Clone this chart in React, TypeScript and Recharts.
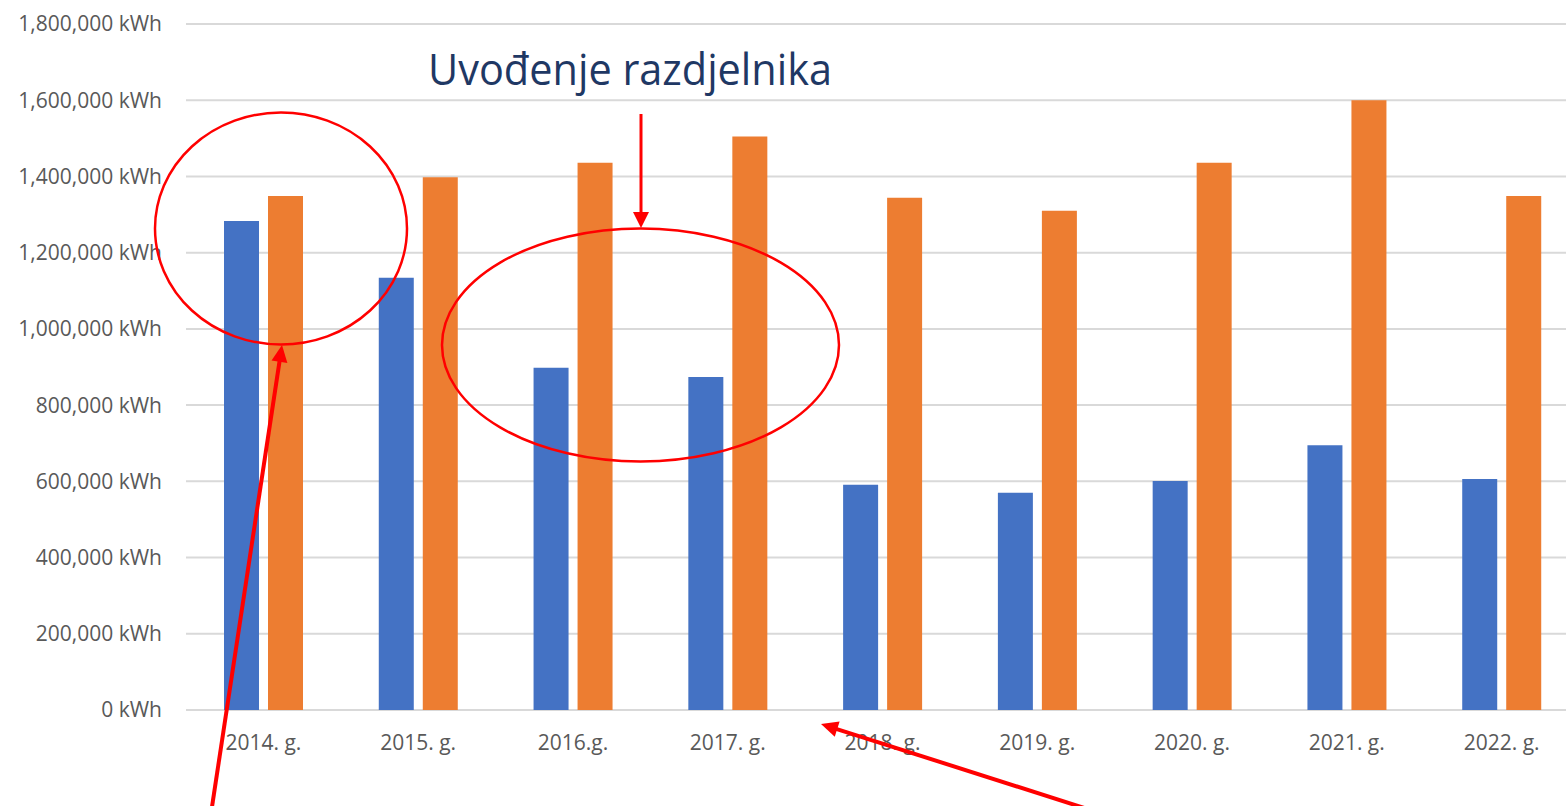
import React from "react";
import { BarChart, Bar, XAxis, YAxis, CartesianGrid } from "recharts";

const years = [
  "2014. g.",
  "2015. g.",
  "2016.g.",
  "2017. g.",
  "2018. g.",
  "2019. g.",
  "2020. g.",
  "2021. g.",
  "2022. g.",
];
const blueValues = [1283000, 1134000, 898000, 874000, 591000, 570000, 601000, 695000, 606000];
const orangeValues = [1349000, 1398000, 1436000, 1505000, 1344000, 1310000, 1436000, 1600000, 1349000];
const yTicks = [0, 200000, 400000, 600000, 800000, 1000000, 1200000, 1400000, 1600000, 1800000];
const annotationTitle = "Uvođenje razdjelnika";

const data = years.map((year, i) => ({
  year,
  blue: blueValues[i],
  orange: orangeValues[i],
}));

const FONT = "'Open Sans', 'Liberation Sans', sans-serif";
const RED = "#FF0000";

function Arrow({ x1, y1, x2, y2, width, head, headWidth }: {
  x1: number; y1: number; x2: number; y2: number; width: number; head: number; headWidth: number;
}) {
  const dx = x2 - x1;
  const dy = y2 - y1;
  const len = Math.sqrt(dx * dx + dy * dy);
  const ux = dx / len;
  const uy = dy / len;
  const bx = x2 - ux * head;
  const by = y2 - uy * head;
  const px = -uy * (headWidth / 2);
  const py = ux * (headWidth / 2);
  return (
    <g>
      <line x1={x1} y1={y1} x2={bx + ux * 2} y2={by + uy * 2} stroke={RED} strokeWidth={width} />
      <polygon points={`${x2},${y2} ${bx + px},${by + py} ${bx - px},${by - py}`} fill={RED} />
    </g>
  );
}

export default function App() {
  return (
    <div
      style={{
        position: "absolute",
        left: 0,
        top: 0,
        width: 1566,
        height: 806,
        overflow: "hidden",
        background: "#fff",
      }}
    >
      <BarChart
        width={1600}
        height={806}
        data={data}
        margin={{ top: 24, right: 21, left: 0, bottom: 0 }}
        barGap={9}
        barSize={35}
      >
        <CartesianGrid vertical={false} stroke="#d9d9d9" strokeWidth={2} />
        <XAxis
          dataKey="year"
          axisLine={false}
          tickLine={false}
          tickSize={0}
          tickMargin={25}
          height={96}
          interval={0}
          tick={{ fontSize: 21, fill: "#595959", fontFamily: FONT }}
        />
        <YAxis
          width={186}
          domain={[0, 1800000]}
          ticks={yTicks}
          axisLine={false}
          tickLine={false}
          tickSize={0}
          tickMargin={24}
          tickFormatter={(v: number) => `${v.toLocaleString("en-US")} kWh`}
          tick={{ fontSize: 21, fill: "#595959", fontFamily: FONT }}
        />
        <Bar dataKey="blue" fill="#4472C4" isAnimationActive={false} />
        <Bar dataKey="orange" fill="#ED7D31" isAnimationActive={false} />
      </BarChart>

      <svg
        width={1566}
        height={806}
        style={{ position: "absolute", left: 0, top: 0, pointerEvents: "none" }}
      >
        <text
          x={428}
          y={85}
          fontSize={43}
          fill="#1F3864"
          fontFamily={FONT}
          textLength={404}
          lengthAdjust="spacingAndGlyphs"
        >
          {annotationTitle}
        </text>
        <ellipse cx={281} cy={228.5} rx={126} ry={116} fill="none" stroke={RED} strokeWidth={2.5} />
        <ellipse cx={640.5} cy={345} rx={198.5} ry={116.5} fill="none" stroke={RED} strokeWidth={2.5} />
        <Arrow x1={641} y1={114} x2={641} y2={228} width={3} head={16} headWidth={16} />
        <Arrow x1={210} y1={820} x2={282} y2={345} width={4} head={17} headWidth={16} />
        <Arrow x1={1100} y1={813} x2={821} y2={724} width={4} head={17} headWidth={16} />
      </svg>
    </div>
  );
}
